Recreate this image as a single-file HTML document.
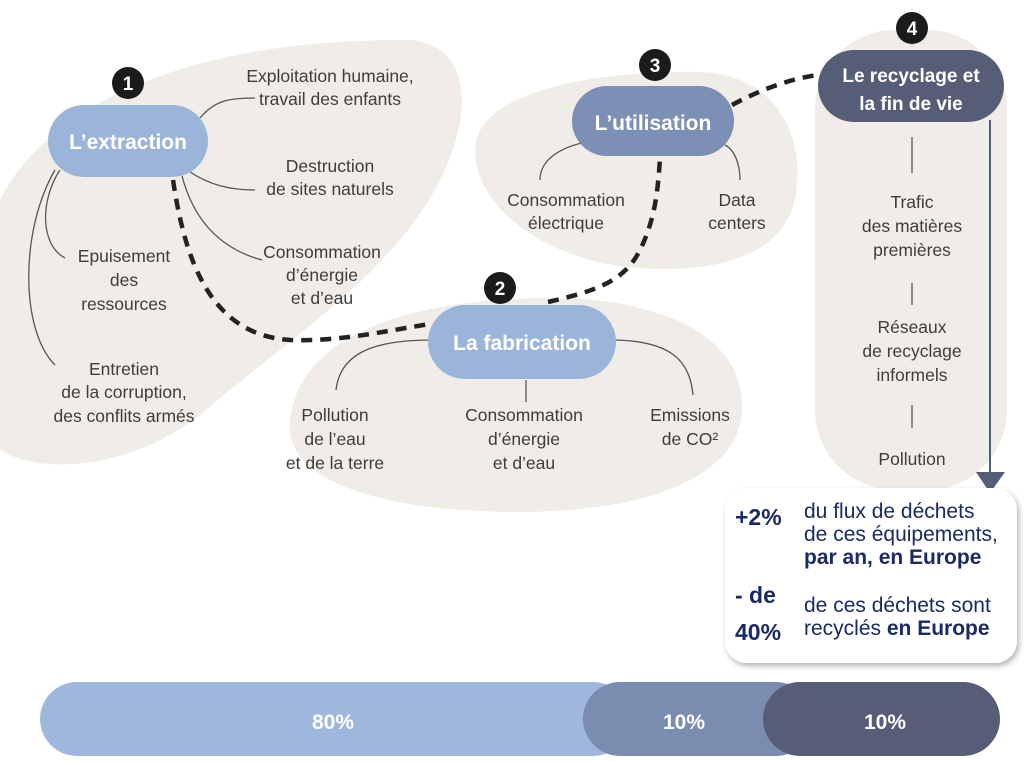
<!DOCTYPE html>
<html><head><meta charset="utf-8"><style>
body{margin:0;background:#fff;}
svg{display:block;font-family:"Liberation Sans",sans-serif;}
.t{font-size:17.5px;fill:#3f3d3b;text-anchor:middle;}
.n{font-size:21px;fill:#fff;font-weight:bold;text-anchor:middle;}
.b{font-size:19px;fill:#fff;font-weight:bold;text-anchor:middle;}
.nv{fill:#1b2a66;font-size:21px;}
.c{fill:none;stroke:#555;stroke-width:1.3;}
.d{fill:none;stroke:#222;stroke-width:4.5;stroke-dasharray:11 8;}
</style></head><body>
<svg width="1024" height="762" viewBox="0 0 1024 762">
<defs><filter id="sh" x="-10%" y="-10%" width="130%" height="130%"><feDropShadow dx="2" dy="3" stdDeviation="3" flood-opacity="0.3"/></filter></defs>
<g fill="#f0ece7">
<path d="M0,200 C50,100 200,38 410,40 C470,45 475,110 440,180 C395,270 300,330 200,415 C130,470 40,475 0,450 Z"/>
<path d="M290,420 C300,330 420,300 540,298 C650,296 745,330 742,410 C740,475 650,512 520,512 C380,512 282,480 290,420 Z"/>
<path d="M478,135 C495,90 600,70 700,72 C785,75 810,150 792,210 C772,262 700,276 620,266 C520,252 462,185 478,135 Z"/>
<rect x="815" y="30" width="192" height="460" rx="80"/>
</g>
<path class="c" d="M200,118 C215,100 230,98 255,98"/>
<path class="c" d="M190,172 C210,185 230,190 255,190"/>
<path class="c" d="M182,176 C195,225 225,250 262,260"/>
<path class="c" d="M60,170 C40,200 40,245 65,258"/>
<path class="c" d="M55,170 C20,230 20,330 55,365"/>
<path class="c" d="M432,340 C370,340 340,355 336,390"/>
<line class="c" x1="526" y1="380" x2="526" y2="402"/>
<path class="c" d="M610,340 C670,340 690,360 693,395"/>
<path class="c" d="M598,140 C560,145 540,160 540,180"/>
<path class="c" d="M725,145 C735,150 740,165 740,180"/>
<line class="c" x1="912" y1="137" x2="912" y2="173"/>
<line class="c" x1="912" y1="283" x2="912" y2="305"/>
<line class="c" x1="912" y1="405" x2="912" y2="428"/>
<path class="d" d="M173,180 C185,260 210,335 290,340 C340,342 390,330 430,324"/>
<path class="d" d="M548,302 C600,290 625,280 640,250 C655,220 658,190 660,158"/>
<path class="d" d="M732,105 C760,90 790,78 825,74"/>
<line x1="990" y1="120" x2="990" y2="478" stroke="#565d76" stroke-width="2"/>
<polygon points="976,472 1005,472 990,493" fill="#565d76"/>
<rect x="48" y="105" width="160" height="72" rx="36" fill="#9bb5da"/>
<text class="n" x="128" y="149">L’extraction</text>
<rect x="428" y="305" width="188" height="74" rx="37" fill="#9bb5da"/>
<text class="n" x="522" y="350">La fabrication</text>
<rect x="572" y="86" width="162" height="70" rx="35" fill="#7c8fb5"/>
<text class="n" x="653" y="130">L’utilisation</text>
<rect x="818" y="50" width="186" height="72" rx="36" fill="#565d76"/>
<text class="b" x="911" y="82">Le recyclage et</text>
<text class="b" x="911" y="110">la fin de vie</text>
<g fill="#1b1b1b"><circle cx="128" cy="83" r="16"/><circle cx="500" cy="288" r="16"/><circle cx="655" cy="65" r="16"/><circle cx="912" cy="28" r="16"/></g>
<g class="b" font-size="20"><text x="128" y="90">1</text><text x="500" y="295">2</text><text x="655" y="72">3</text><text x="912" y="35">4</text></g>
<g class="t">
<text x="330" y="82">Exploitation humaine,</text><text x="330" y="105">travail des enfants</text>
<text x="330" y="172">Destruction</text><text x="330" y="195">de sites naturels</text>
<text x="322" y="258">Consommation</text><text x="322" y="281">d’énergie</text><text x="322" y="304">et d’eau</text>
<text x="124" y="262">Epuisement</text><text x="124" y="286">des</text><text x="124" y="310">ressources</text>
<text x="124" y="375">Entretien</text><text x="124" y="398">de la corruption,</text><text x="124" y="422">des conflits armés</text>
<text x="335" y="421">Pollution</text><text x="335" y="445">de l’eau</text><text x="335" y="469">et de la terre</text>
<text x="524" y="421">Consommation</text><text x="524" y="445">d’énergie</text><text x="524" y="469">et d’eau</text>
<text x="690" y="421">Emissions</text><text x="690" y="445">de CO²</text>
<text x="566" y="206">Consommation</text><text x="566" y="229">électrique</text>
<text x="737" y="206">Data</text><text x="737" y="229">centers</text>
<text x="912" y="208">Trafic</text><text x="912" y="232">des matières</text><text x="912" y="256">premières</text>
<text x="912" y="333">Réseaux</text><text x="912" y="357">de recyclage</text><text x="912" y="381">informels</text>
<text x="912" y="465">Pollution</text>
</g>
<rect x="725" y="488" width="292" height="175" rx="22" fill="#fff" filter="url(#sh)"/>
<g class="nv">
<text x="735" y="525" font-weight="bold" font-size="23">+2%</text>
<text x="804" y="518">du flux de déchets</text>
<text x="804" y="541">de ces équipements,</text>
<text x="804" y="564" font-weight="bold">par an, en Europe</text>
<text x="735" y="603" font-weight="bold" font-size="23">- de</text>
<text x="735" y="640" font-weight="bold" font-size="23">40%</text>
<text x="804" y="612">de ces déchets sont</text>
<text x="804" y="635">recyclés <tspan font-weight="bold">en Europe</tspan></text>
</g>
<rect x="40" y="682" width="590" height="74" rx="37" fill="#9fb7dc"/>
<rect x="583" y="682" width="230" height="74" rx="37" fill="#7a8cb0"/>
<rect x="763" y="682" width="237" height="74" rx="37" fill="#575d77"/>
<g class="n" font-size="28"><text x="333" y="729">80%</text><text x="684" y="729">10%</text><text x="885" y="729">10%</text></g>
</svg>
</body></html>
